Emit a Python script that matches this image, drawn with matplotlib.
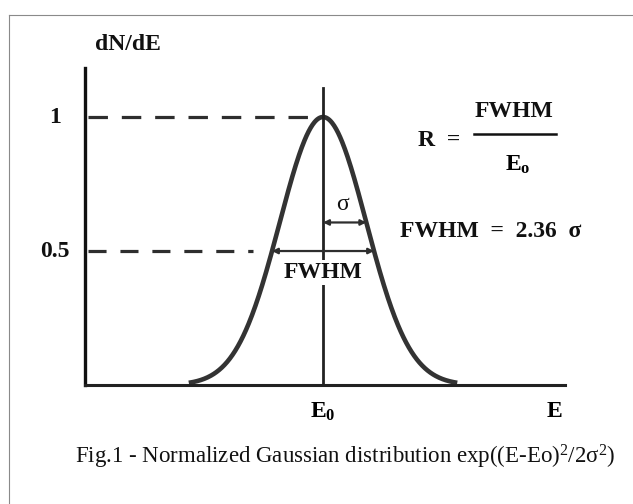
import numpy as np
import matplotlib
matplotlib.use("Agg")
import matplotlib.pyplot as plt
from matplotlib.lines import Line2D

plt.rcParams["font.family"] = ["Liberation Serif", "DejaVu Serif"]
plt.rcParams["mathtext.fontset"] = "custom"
plt.rcParams["mathtext.rm"] = "Liberation Serif"
plt.rcParams["mathtext.bf"] = "Liberation Serif:bold"
plt.rcParams["mathtext.it"] = "Liberation Serif:italic"
plt.rcParams["lines.scale_dashes"] = False

# Peak parameters (energy measured in units of sigma)
e0 = 0.0
sigma = 1.0
fwhm_factor = 2.36
peak = 1.0
half_max = 0.5
ytick_values = [0.5, 1.0]
ytick_labels = ["0.5", "1"]

fwhm = fwhm_factor * sigma
e = np.linspace(e0 - 3.1 * sigma, e0 + 3.1 * sigma, 400)
dnde = peak * np.exp(-(e - e0) ** 2 / (2 * sigma ** 2))
y_sigma = peak * np.exp(-0.5)

DARK = "#2e2e2e"
BOLD = dict(fontsize=17, fontweight="bold", color="#111")


def main():
    fig = plt.figure(figsize=(6.33, 5.04), dpi=100)
    ax = fig.add_axes([0.1343, 0.2361, 0.7583, 0.629])
    ax.set_xlim(-5.497, 5.589)
    ax.set_ylim(0, 1.183)
    for side in ("top", "right"):
        ax.spines[side].set_visible(False)
    ax.spines["left"].set_linewidth(2.4)
    ax.spines["bottom"].set_linewidth(2.2)
    ax.spines["left"].set_color("#111")
    ax.spines["bottom"].set_color("#222")
    ax.set_xticks([])
    ax.set_yticks([])

    # Gaussian peak
    ax.plot(e, dnde, color="#333", lw=3.3, solid_capstyle="butt")

    # dashed guides at the maximum and at half maximum
    ax.plot([-5.43, e0 - 0.07], [peak, peak], ls=(0, (14, 10)),
            lw=2.3, color=DARK)
    ax.plot([-5.43, e0 - fwhm / 2 - 0.44], [half_max, half_max],
            ls=(0, (13, 10)), lw=2.3, color=DARK)

    # centroid line
    ax.plot([e0, e0], [0, 1.108], color="#222", lw=2.0)

    # FWHM and sigma arrows
    arrow = dict(arrowstyle="<|-|>", lw=1.6, color=DARK,
                 mutation_scale=8, shrinkA=0, shrinkB=0)
    ax.annotate("", xy=(e0 - fwhm / 2, half_max),
                xytext=(e0 + fwhm / 2, half_max), arrowprops=arrow)
    ax.annotate("", xy=(e0, y_sigma), xytext=(e0 + sigma, y_sigma),
                arrowprops=arrow)

    ax.text(e0 + 0.46, 0.675, "σ", fontsize=17, color="#111",
            ha="center", va="center")
    ax.text(e0, 0.42, "FWHM", ha="center", va="center",
            bbox=dict(fc="white", ec="none", pad=1.5), **BOLD)

    # y labels and axis titles
    for v, lab in zip(ytick_values, ytick_labels):
        ax.text(-6.2, v, lab, ha="center", va="center", clip_on=False,
                **BOLD)
    ax.text(-5.27, 1.269, "dN/dE", ha="left", va="center", clip_on=False,
            **BOLD)
    ax.text(e0, -0.1, r"$\mathbf{E}_\mathbf{0}$", ha="center", va="center",
            fontsize=17, clip_on=False)
    ax.text(5.35, -0.1, r"$\mathbf{E}$", ha="center", va="center",
            fontsize=17, clip_on=False)

    # resolution formulas
    ax.text(2.2, 0.914, "R  =", ha="left", va="center", **BOLD)
    ax.plot([3.49, 5.38], [0.935, 0.935], color="#111", lw=1.8,
            clip_on=False)
    ax.text(4.4, 1.02, "FWHM", ha="center", va="center", **BOLD)
    ax.text(4.5, 0.82, r"$\mathbf{E}_\mathbf{o}$", ha="center",
            va="center", fontsize=17)
    ax.text(1.78, 0.571, "FWHM  =  2.36  σ", ha="left", va="center",
            clip_on=False, **BOLD)

    # caption
    fig.text(75 / 633, 1 - 457 / 504,
             r"Fig.1 - Normalized Gaussian distribution "
             r"exp((E-Eo)$^{2}$/2σ$^{2}$)",
             ha="left", va="center", fontsize=16.5, color="#111")

    # page frame
    fig.add_artist(Line2D([9 / 633, 1], [1 - 15 / 504, 1 - 15 / 504],
                          transform=fig.transFigure, color="#8a8a8a",
                          lw=0.8))
    fig.add_artist(Line2D([9 / 633, 9 / 633], [0, 1 - 15 / 504],
                          transform=fig.transFigure, color="#8a8a8a",
                          lw=0.8))

    fig.savefig("out.png", dpi=100)


if __name__ == "__main__":
    main()
